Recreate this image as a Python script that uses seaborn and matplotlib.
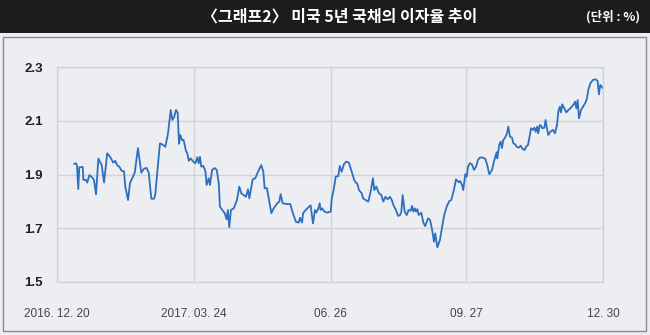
import matplotlib
matplotlib.use("Agg")
import matplotlib.pyplot as plt
import matplotlib.patches as mpatches
import numpy as np
import pandas as pd
import seaborn as sns

# ---------------- data ----------------
start_date = "2016-12-20"
# days elapsed since start_date for each observation
days = [
    11.7, 13.0, 13.7, 14.6, 15.3, 17.7, 18.1, 19.9, 20.8, 22.2,
    24.0, 25.4, 26.8, 28.4, 30.7, 32.3, 34.5, 36.4, 38.7, 40.0,
    41.4, 42.8, 44.4, 46.0, 46.9, 48.8, 50.1, 52.0, 53.4, 55.6,
    57.0, 57.9, 59.8, 61.6, 63.0, 64.8, 66.6, 67.5, 69.4, 70.7,
    72.6, 74.4, 76.2, 78.1, 79.2, 80.4, 81.7, 82.9, 83.8, 84.7,
    85.9, 87.0, 88.4, 89.5, 90.5, 91.8, 93.6, 95.0, 96.4, 97.3,
    98.2, 99.1, 100.5, 101.9, 102.8, 104.2, 105.1, 106.5, 108.3, 109.7,
    111.1, 111.9, 115.2, 116.5, 117.4, 118.3, 119.5, 121.4, 123.6, 125.2,
    126.6, 129.8, 131.2, 132.1, 134.4, 136.2, 138.0, 140.3, 141.7, 142.6,
    144.2, 147.2, 148.8, 151.3, 152.7, 153.6, 155.0, 158.0, 160.2, 161.9,
    164.1, 166.0, 166.9, 168.3, 169.0, 170.8, 173.1, 174.2, 175.8, 177.2,
    178.1, 179.5, 180.4, 181.1, 182.2, 183.6, 185.6, 188.0, 188.7, 190.0,
    191.4, 193.2, 194.2, 195.5, 197.1, 198.7, 200.5, 202.4, 204.0, 205.1,
    206.2, 207.4, 209.3, 210.2, 212.0, 213.8, 215.4, 217.0, 217.9, 219.3,
    221.1, 222.7, 224.1, 225.5, 227.1, 228.7, 230.1, 231.0, 232.8, 234.2,
    235.6, 236.5, 237.4, 238.8, 240.2, 241.5, 242.9, 243.8, 244.7, 245.7,
    246.6, 247.5, 248.4, 250.2, 251.6, 252.9, 254.8, 256.2, 257.6, 258.9,
    259.8, 261.2, 263.0, 264.4, 265.8, 267.6, 269.4, 270.8, 272.7, 274.0,
    275.9, 276.8, 278.2, 279.0, 280.4, 281.4, 282.3, 283.6, 285.0, 286.4,
    287.8, 289.1, 290.5, 292.4, 294.2, 295.5, 296.9, 298.8, 300.1, 301.0,
    302.0, 302.4, 303.8, 304.7, 305.6, 306.5, 307.5, 308.9, 310.0, 311.1,
    312.5, 313.4, 314.8, 315.7, 317.1, 318.5, 319.8, 321.2, 322.1, 323.5,
    324.9, 325.5, 326.9, 327.8, 328.8, 329.7, 330.5, 331.5, 332.4, 333.3,
    334.7, 335.6, 336.5, 337.4, 338.8, 340.7, 342.0, 343.4, 344.3, 345.3,
    346.1, 347.0, 348.4, 349.8, 351.2, 352.5, 354.9, 355.8, 356.7, 357.6,
    358.5, 359.9, 361.7, 363.1, 364.0, 364.9, 366.3, 368.1, 370.0, 371.3,
    371.8, 372.2, 373.1, 374.1, 375.0,
]
# US 5-year treasury yield (%)
yields = [
    1.939, 1.942, 1.935, 1.846, 1.927, 1.928, 1.880, 1.880, 1.870, 1.898,
    1.890, 1.880, 1.826, 1.959, 1.935, 1.870, 1.979, 1.966, 1.944, 1.951,
    1.934, 1.929, 1.914, 1.912, 1.855, 1.805, 1.867, 1.890, 1.907, 1.998,
    1.944, 1.907, 1.922, 1.924, 1.907, 1.810, 1.810, 1.825, 1.939, 2.016,
    2.011, 2.003, 2.051, 2.140, 2.103, 2.113, 2.140, 2.130, 2.014, 2.047,
    2.028, 2.028, 1.991, 1.979, 1.951, 1.960, 1.948, 1.942, 1.964, 1.942,
    1.966, 1.929, 1.932, 1.913, 1.861, 1.886, 1.861, 1.917, 1.924, 1.917,
    1.867, 1.780, 1.756, 1.733, 1.768, 1.704, 1.768, 1.774, 1.805, 1.855,
    1.830, 1.817, 1.845, 1.811, 1.882, 1.886, 1.910, 1.935, 1.910, 1.849,
    1.849, 1.756, 1.774, 1.793, 1.799, 1.827, 1.793, 1.790, 1.790, 1.758,
    1.724, 1.721, 1.739, 1.721, 1.756, 1.768, 1.780, 1.785, 1.718, 1.768,
    1.758, 1.774, 1.793, 1.768, 1.774, 1.762, 1.758, 1.762, 1.811, 1.842,
    1.892, 1.894, 1.932, 1.910, 1.939, 1.948, 1.944, 1.910, 1.882, 1.870,
    1.867, 1.842, 1.830, 1.811, 1.805, 1.799, 1.836, 1.886, 1.842, 1.855,
    1.830, 1.824, 1.799, 1.817, 1.808, 1.817, 1.803, 1.787, 1.768, 1.746,
    1.749, 1.762, 1.824, 1.762, 1.749, 1.768, 1.765, 1.783, 1.762, 1.774,
    1.762, 1.771, 1.749, 1.758, 1.721, 1.708, 1.737, 1.731, 1.696, 1.650,
    1.681, 1.629, 1.656, 1.700, 1.746, 1.780, 1.801, 1.805, 1.845, 1.882,
    1.871, 1.876, 1.861, 1.842, 1.901, 1.892, 1.929, 1.942, 1.938, 1.917,
    1.929, 1.954, 1.963, 1.963, 1.958, 1.935, 1.901, 1.917, 1.948, 1.966,
    1.983, 1.960, 2.012, 2.022, 1.998, 2.028, 2.035, 2.050, 2.078, 2.041,
    2.037, 2.016, 2.012, 2.003, 2.000, 2.007, 1.995, 1.991, 2.003, 2.010,
    2.050, 2.072, 2.066, 2.074, 2.059, 2.078, 2.053, 2.084, 2.082, 2.072,
    2.074, 2.103, 2.072, 2.047, 2.059, 2.066, 2.053, 2.084, 2.134, 2.152,
    2.131, 2.161, 2.146, 2.131, 2.140, 2.146, 2.161, 2.171, 2.146, 2.177,
    2.109, 2.140, 2.156, 2.169, 2.184, 2.214, 2.239, 2.252, 2.254, 2.248,
    2.221, 2.198, 2.233, 2.227, 2.221,
]

tick_dates = ["2016-12-20", "2017-03-24", "2017-06-26", "2017-09-27", "2017-12-30"]
tick_labels = ["2016. 12. 20", "2017. 03. 24", "06. 26", "09. 27", "12. 30"]
y_ticks = [1.5, 1.7, 1.9, 2.1, 2.3]
y_labels = ["1.5", "1.7", "1.9", "2.1", "2.3"]

title = "〈그래프2〉 미국 5년 국채의 이자율 추이"
unit = "(단위 : %)"

# ---------------- styling ----------------
sns.set_theme(style="white")
plt.rcParams["font.family"] = ["Noto Sans CJK KR", "DejaVu Sans"]

BG = "#eceef1"
GRID = "#cfd2d6"
LINE = "#2f6fbf"
TXT = "#231f20"

df = pd.DataFrame({
    "date": pd.Timestamp(start_date) + pd.to_timedelta(days, unit="D"),
    "yield": yields,
})

W, H = 650, 335
fig = plt.figure(figsize=(W / 100, H / 100), dpi=100, facecolor=BG)

# title bar
fig.patches.append(mpatches.Rectangle((0, 1 - 33 / H), 1, 33 / H,
                                      transform=fig.transFigure,
                                      facecolor="#1e1b1c", edgecolor="none", zorder=0))
# outer panel border
fig.patches.append(mpatches.Rectangle((3 / W, 4 / H), 643 / W, (H - 37 - 4) / H,
                                      transform=fig.transFigure,
                                      facecolor="none", edgecolor="#8a8c90",
                                      linewidth=1.0, zorder=1))

fig.text(340 / W, 1 - 17 / H, title, color="white", fontsize=11.5,
         fontweight="bold", ha="center", va="center")
fig.text(640 / W, 1 - 17 / H, unit, color="white", fontsize=9,
         fontweight="bold", ha="right", va="center")

ax = fig.add_axes([57 / W, 1 - 282 / H, (603 - 57) / W, (282 - 67) / H])
ax.set_facecolor(BG)

sns.lineplot(data=df, x="date", y="yield", ax=ax, color=LINE, linewidth=1.3)

ax.set_xlim(pd.Timestamp(tick_dates[0]), pd.Timestamp(tick_dates[-1]))
ax.set_ylim(y_ticks[0], y_ticks[-1])
ax.set_xticks([pd.Timestamp(d) for d in tick_dates])
ax.set_xticklabels(tick_labels)
ax.set_yticks(y_ticks)
ax.set_yticklabels(y_labels)
ax.set_xlabel("")
ax.set_ylabel("")

ax.grid(True, color=GRID, linewidth=1.0)
for s in ax.spines.values():
    s.set_visible(True)
    s.set_color(GRID)
    s.set_linewidth(1.0)

ax.tick_params(axis="both", length=0)
ax.tick_params(axis="y", pad=10, labelsize=9.5, labelcolor=TXT)
ax.tick_params(axis="x", pad=19, labelsize=8.5, labelcolor="#444444")
for lbl in ax.get_yticklabels():
    lbl.set_fontweight("bold")
    lbl.set_family(["Liberation Sans", "DejaVu Sans"])
for lbl in ax.get_xticklabels():
    lbl.set_family(["Liberation Sans Narrow", "Liberation Sans", "DejaVu Sans"])

fig.savefig("out.png", dpi=100, facecolor=BG)
